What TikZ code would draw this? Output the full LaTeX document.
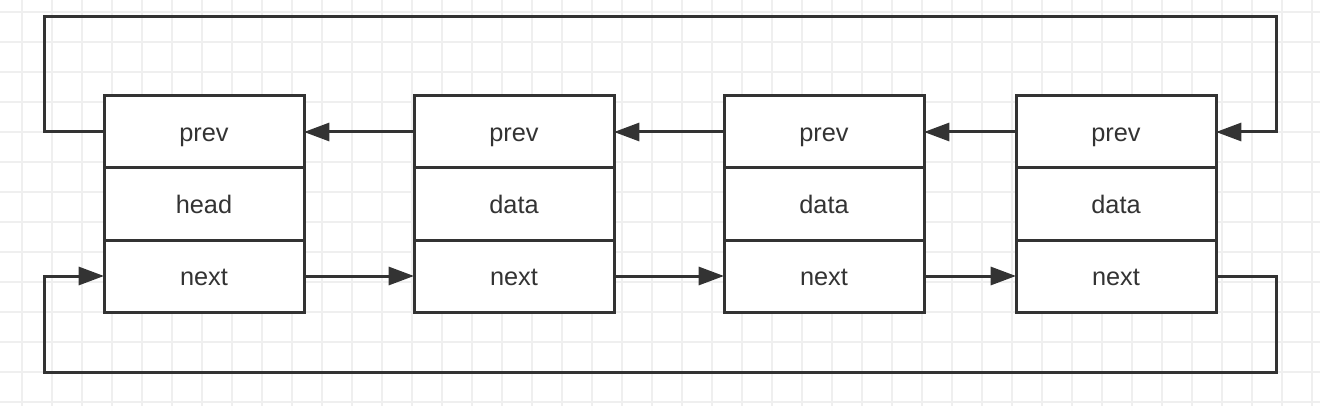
\documentclass[tikz,border=0pt]{standalone}
\usepackage{fontspec}
\setmainfont{Liberation Sans}
\usetikzlibrary{arrows.meta}
\definecolor{ink}{HTML}{333333}
\definecolor{gridc}{HTML}{EFEFEF}
\begin{document}
\begin{tikzpicture}[x=0.75pt,y=-0.75pt,
  cell/.style={draw=ink,line width=2.25pt,fill=white,minimum width=150pt,minimum height=54pt,
    inner sep=0pt,outer sep=0pt,text height=17.5pt,text depth=3pt,
    font=\fontsize{19pt}{22pt}\selectfont,text=ink},
  arr/.style={draw=ink,line width=2.25pt,-{Triangle[length=19pt,width=13.5pt]}}]
\useasboundingbox (0,0) rectangle (1320,406);
\fill[white] (0,0) rectangle (1320,406);
\foreach \i in {0,...,43} {\draw[gridc,line width=1pt] (22+30*\i,0) -- (22+30*\i,406);}
\foreach \j in {0,...,13} {\draw[gridc,line width=1pt] (0,12+30*\j) -- (1320,12+30*\j);}
\foreach \n/\x/\m in {1/204/head,2/514/data,3/824/data,4/1116/data} {
  \node[cell] (p\n) at (\x,132) {prev};
  \node[cell] (d\n) at (\x,204) {\m};
  \node[cell] (n\n) at (\x,276) {next};
}
\coordinate (tl) at (44,17);
\coordinate (tr) at (1276,17);
\coordinate (bl) at (44,372);
\coordinate (br) at (1276,372);
\draw[arr] (p2.west) -- (p1.east);
\draw[arr] (p3.west) -- (p2.east);
\draw[arr] (p4.west) -- (p3.east);
\draw[arr] (n1.east) -- (n2.west);
\draw[arr] (n2.east) -- (n3.west);
\draw[arr] (n3.east) -- (n4.west);
\draw[arr] (p1.west) -| (tl) -- (tr) |- (p4.east);
\draw[arr] (n4.east) -| (br) -- (bl) |- (n1.west);
\end{tikzpicture}
\end{document}
